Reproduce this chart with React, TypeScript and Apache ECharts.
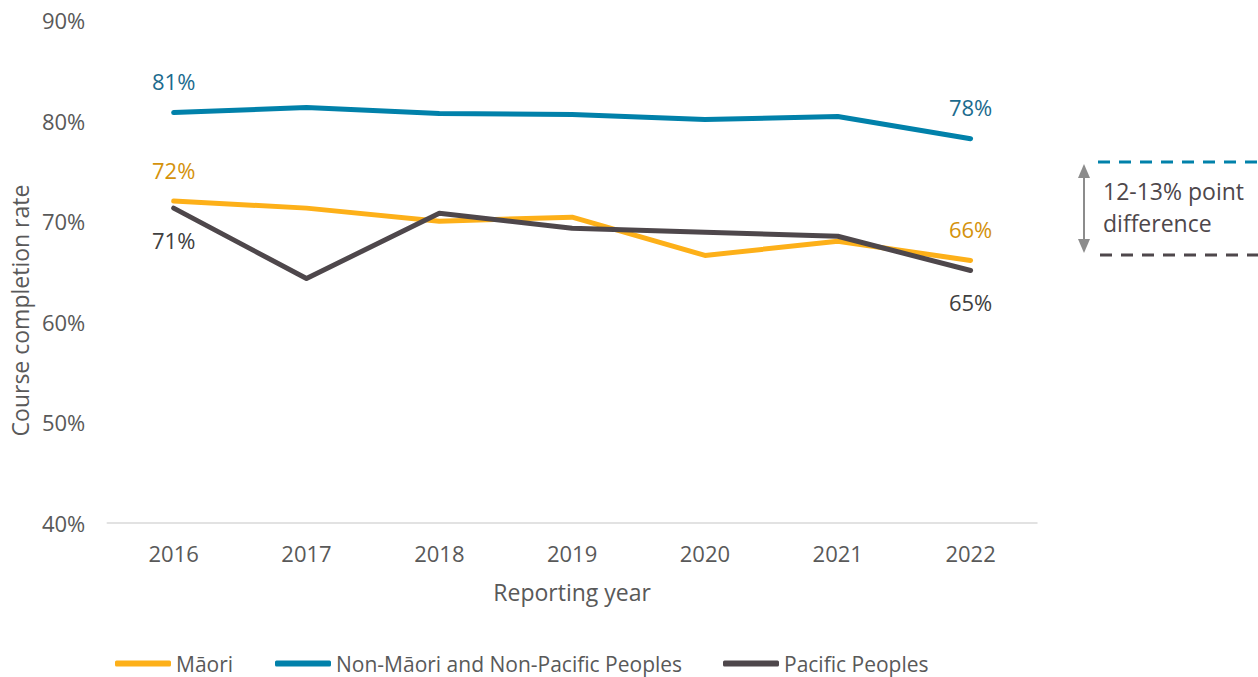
import React, { useEffect, useRef } from "react";
import * as echarts from "echarts";

const years = ["2016", "2017", "2018", "2019", "2020", "2021", "2022"];
const maori = [72.0, 71.3, 70.0, 70.4, 66.6, 68.0, 66.1];
const nonMaoriNonPacific = [80.8, 81.3, 80.7, 80.6, 80.1, 80.4, 78.2];
const pacific = [71.3, 64.3, 70.8, 69.3, 68.9, 68.5, 65.1];
const yTicks = [40, 50, 60, 70, 80, 90];

const FONT = "'Open Sans', sans-serif";
const C_MAORI = "#FDB019";
const C_NON = "#0181AA";
const C_PAC = "#4E474B";

function withEndLabels(vals: number[], color: string, firstPos: string, lastPos: string) {
  return vals.map((v, i) => {
    if (i === 0 || i === vals.length - 1) {
      return {
        value: v,
        label: {
          show: true,
          position: i === 0 ? firstPos : lastPos,
          distance: 20,
          formatter: Math.round(v) + "%",
          color,
          fontSize: 22,
          fontFamily: FONT,
        },
      };
    }
    return v;
  });
}

export default function App() {
  const ref = useRef<HTMLDivElement>(null);
  useEffect(() => {
    if (!ref.current) return;
    const chart = echarts.init(ref.current, undefined, { renderer: "svg" });
    const legendCommon = {
      top: 648,
      icon: "roundRect",
      itemWidth: 56,
      itemHeight: 6,
      itemGap: 8,
      textStyle: { fontSize: 21, fontFamily: FONT, color: "#595959" },
    };
    const axisText = { fontSize: 22, fontFamily: FONT, color: "#595959" };
    chart.setOption({
      animation: false,
      grid: { left: 107, right: 221, top: 20, bottom: 154 },
      legend: [
        { ...legendCommon, left: 110, data: ["Māori"] },
        { ...legendCommon, left: 270, data: ["Non-Māori and Non-Pacific Peoples"] },
        { ...legendCommon, left: 718, data: ["Pacific Peoples"] },
      ],
      xAxis: {
        type: "category",
        data: years,
        boundaryGap: true,
        name: "Reporting year",
        nameLocation: "middle",
        nameGap: 57,
        nameTextStyle: { ...axisText, fontSize: 23 },
        axisLine: { lineStyle: { color: "#D9D9D9", width: 1.5 } },
        axisTick: { show: false },
        axisLabel: { ...axisText, margin: 19 },
      },
      yAxis: {
        type: "value",
        min: yTicks[0],
        max: yTicks[yTicks.length - 1],
        interval: 10,
        name: "Course completion rate",
        nameLocation: "middle",
        nameGap: 76,
        nameTextStyle: { ...axisText, fontSize: 23, padding: [0, 78, 0, 0] },
        axisLine: { show: false },
        axisTick: { show: false },
        splitLine: { show: false },
        axisLabel: {
          ...axisText,
          margin: 22,
          formatter: (v: number) => v + "%",
        },
      },
      series: [
        {
          name: "Māori",
          type: "line",
          data: withEndLabels(maori, "#D4920C", "top", "top"),
          showSymbol: true,
          symbol: "circle",
          symbolSize: 1,
          lineStyle: { color: C_MAORI, width: 5, cap: "round", join: "round" },
          itemStyle: { color: C_MAORI },
          z: 2,
        },
        {
          name: "Non-Māori and Non-Pacific Peoples",
          type: "line",
          data: withEndLabels(nonMaoriNonPacific, "#1C6B8E", "top", "top"),
          showSymbol: true,
          symbol: "circle",
          symbolSize: 1,
          lineStyle: { color: C_NON, width: 5, cap: "round", join: "round" },
          itemStyle: { color: C_NON },
          z: 3,
        },
        {
          name: "Pacific Peoples",
          type: "line",
          data: withEndLabels(pacific, "#404040", "bottom", "bottom"),
          showSymbol: true,
          symbol: "circle",
          symbolSize: 1,
          lineStyle: { color: C_PAC, width: 5, cap: "round", join: "round" },
          itemStyle: { color: C_PAC },
          z: 4,
        },
      ],
      graphic: [
        {
          type: "line",
          shape: { x1: 1098, y1: 162, x2: 1258, y2: 162 },
          style: { stroke: C_NON, lineWidth: 3, lineDash: [12, 9] },
        },
        {
          type: "line",
          shape: { x1: 1100, y1: 255, x2: 1258, y2: 255 },
          style: { stroke: C_PAC, lineWidth: 3, lineDash: [12, 9] },
        },
        {
          type: "line",
          shape: { x1: 1084, y1: 172, x2: 1084, y2: 244 },
          style: { stroke: "#8C8C8C", lineWidth: 2 },
        },
        {
          type: "polygon",
          shape: { points: [[1084, 164], [1078, 178], [1090, 178]] },
          style: { fill: "#8C8C8C" },
        },
        {
          type: "polygon",
          shape: { points: [[1084, 253], [1078, 239], [1090, 239]] },
          style: { fill: "#8C8C8C" },
        },
        {
          type: "text",
          x: 1103,
          y: 191,
          style: {
            text: "12-13% point",
            fontSize: 23,
            fontFamily: FONT,
            fill: "#4E474B",
            verticalAlign: "middle",
          },
        },
        {
          type: "text",
          x: 1103,
          y: 223,
          style: {
            text: "difference",
            fontSize: 23,
            fontFamily: FONT,
            fill: "#4E474B",
            verticalAlign: "middle",
          },
        },
      ],
    });
    return () => chart.dispose();
  }, []);
  return (
    <div
      ref={ref}
      style={{ position: "absolute", left: 0, top: 0, width: 1258, height: 677 }}
    />
  );
}
